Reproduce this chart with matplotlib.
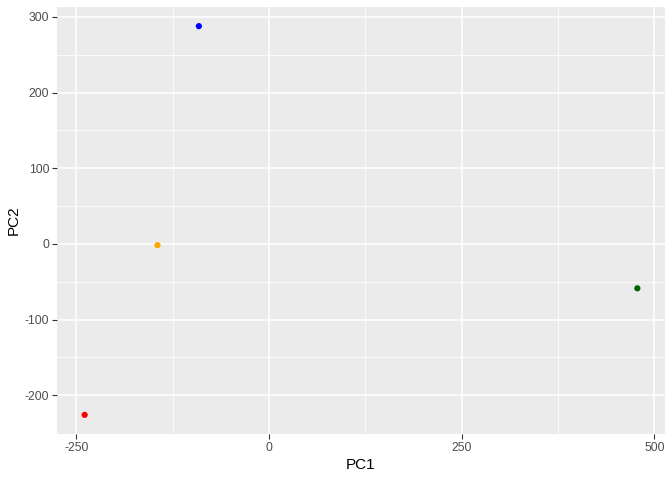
import matplotlib
matplotlib.use("Agg")
import matplotlib.pyplot as plt
import numpy as np

# PCA scores
pc1 = [-239.2, -144.7, -91.0, 478.0]
pc2 = [-225.8, -1.6, 287.7, -58.6]
colors = ["red", "orange", "blue", "darkgreen"]

xticks = [-250, 0, 250, 500]
yticks = [-200, -100, 0, 100, 200, 300]

plt.rcParams["font.family"] = ["Liberation Sans", "DejaVu Sans"]
plt.rcParams["axes.unicode_minus"] = False

fig = plt.figure(figsize=(6.72, 4.8), dpi=100)
ax = fig.add_axes([57 / 672, (480 - 434.3) / 480, (665 - 57) / 672, (434.3 - 6.7) / 480])
ax.set_facecolor("#EBEBEB")

ax.scatter(pc1, pc2, c=colors, s=20, linewidths=0, zorder=3)

ax.set_xticks(xticks)
ax.set_yticks(yticks)
ax.set_xticks([-125, 125, 375], minor=True)
ax.set_yticks([-150, -50, 50, 150, 250], minor=True)
ax.margins(0.05)

ax.grid(True, which="major", color="white", lw=1.1)
ax.grid(True, which="minor", color="white", lw=0.55)
ax.set_axisbelow(True)
for s in ax.spines.values():
    s.set_visible(False)

ax.tick_params(which="major", length=3.5, width=0.8, color="#333333",
               labelcolor="#4D4D4D", labelsize=8.8, pad=2)
ax.tick_params(which="minor", length=0)

ax.set_xlabel("PC1", fontsize=11, color="black", labelpad=3)
ax.set_ylabel("PC2", fontsize=11, color="black", labelpad=3)

fig.savefig("out.png", dpi=100)
